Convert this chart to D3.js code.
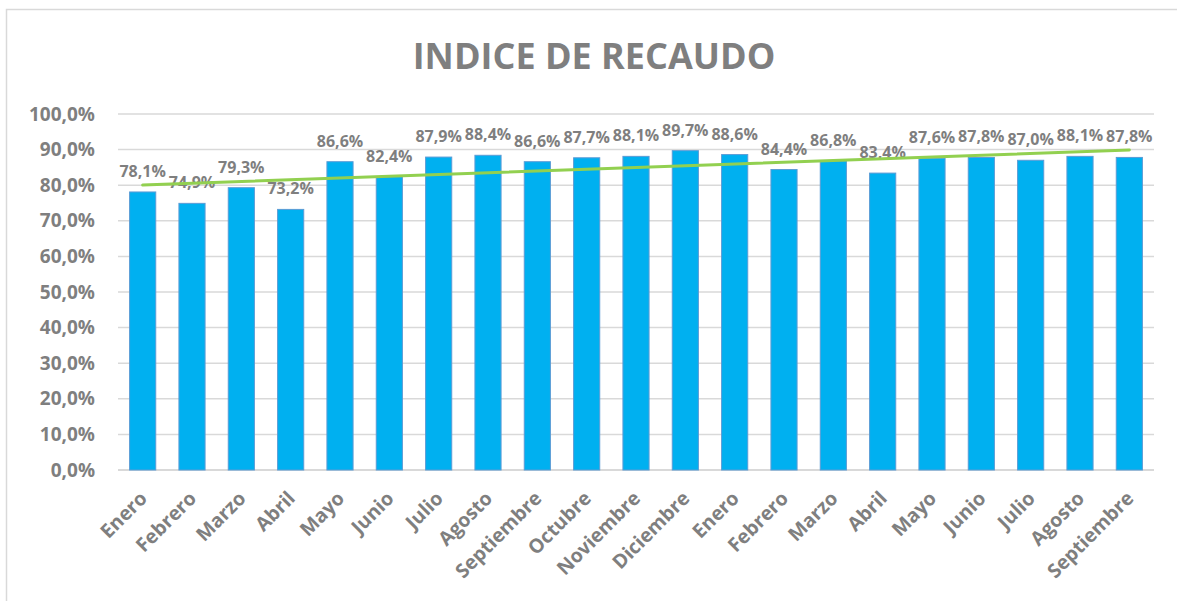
<!DOCTYPE html>
<html>
<head>
<meta charset="utf-8">
<script src="https://cdn.jsdelivr.net/npm/d3@7"></script>
<style>
  html, body { margin: 0; padding: 0; background: #fff; }
  svg { display: block; font-family: "Open Sans", "Liberation Sans", sans-serif; }
</style>
</head>
<body>
<svg id="chart" width="1177" height="601"></svg>
<script>
// Indice de recaudo, dos años (enero a septiembre del segundo)
const meses = [
  "Enero", "Febrero", "Marzo", "Abril", "Mayo", "Junio", "Julio", "Agosto",
  "Septiembre", "Octubre", "Noviembre", "Diciembre",
  "Enero", "Febrero", "Marzo", "Abril", "Mayo", "Junio", "Julio", "Agosto",
  "Septiembre"
];
const indice = [
  78.1, 74.9, 79.3, 73.2, 86.6, 82.4, 87.9, 88.4, 86.6, 87.7, 88.1, 89.7,
  88.6, 84.4, 86.8, 83.4, 87.6, 87.8, 87.0, 88.1, 87.8
];
const yTicks = [0, 10, 20, 30, 40, 50, 60, 70, 80, 90, 100];

const gris = "#7f7f7f";
const svg = d3.select("#chart");

// marco del gráfico
svg.append("rect")
  .attr("x", 6.5).attr("y", 9.5)
  .attr("width", 1200).attr("height", 620)
  .attr("fill", "none")
  .attr("stroke", "#d9d9d9")
  .attr("stroke-width", 1.5);

const plot = { left: 118, right: 1154, top: 114, bottom: 470 };
const keys = meses.map((m, i) => i);

const x = d3.scaleBand()
  .domain(keys)
  .range([plot.left, plot.right])
  .paddingInner(0.47)
  .paddingOuter(0.235);

const y = d3.scaleLinear()
  .domain([0, 100])
  .range([plot.bottom, plot.top]);

// título
svg.append("text")
  .attr("x", 594)
  .attr("y", 69)
  .attr("text-anchor", "middle")
  .attr("fill", gris)
  .attr("font-size", 36)
  .attr("font-weight", 700)
  .text("INDICE DE RECAUDO");

// líneas de cuadrícula
svg.append("g")
  .selectAll("line")
  .data(yTicks)
  .enter()
  .append("line")
    .attr("x1", plot.left).attr("x2", plot.right)
    .attr("y1", d => y(d)).attr("y2", d => y(d))
    .attr("stroke", "#d9d9d9")
    .attr("stroke-width", d => d === 0 ? 2 : 1.5);

// eje Y
const yAxis = svg.append("g")
  .attr("transform", `translate(${plot.left},0)`)
  .call(d3.axisLeft(y).tickValues(yTicks).tickSize(0).tickPadding(23)
    .tickFormat(d => d.toFixed(1).replace(".", ",") + "%"));
yAxis.select(".domain").remove();
yAxis.selectAll("text")
  .attr("fill", gris)
  .attr("font-size", 19)
  .attr("font-weight", 700)
  .attr("font-family", "Open Sans");

// barras
svg.append("g")
  .selectAll("rect")
  .data(indice)
  .enter()
  .append("rect")
    .attr("x", (d, i) => x(i))
    .attr("y", d => y(d))
    .attr("width", x.bandwidth())
    .attr("height", d => y(0) - y(d))
    .attr("fill", "#00b0f0")
    .attr("stroke", "#5b9bd5")
    .attr("stroke-width", 1);

// etiquetas de datos
svg.append("g")
  .selectAll("text")
  .data(indice)
  .enter()
  .append("text")
    .attr("x", (d, i) => x(i) + x.bandwidth() / 2)
    .attr("y", d => y(d) - 15)
    .attr("text-anchor", "middle")
    .attr("fill", gris)
    .attr("font-size", 16)
    .attr("font-weight", 700)
    .text(d => d.toFixed(1).replace(".", ",") + "%");

// línea de tendencia (mínimos cuadrados, como en Excel)
const n = indice.length;
const mx = d3.mean(keys);
const my = d3.mean(indice);
const pend = d3.sum(keys, i => (i - mx) * (indice[i] - my)) /
             d3.sum(keys, i => (i - mx) * (i - mx));
const tend = i => my + pend * (i - mx);

svg.append("line")
  .attr("x1", x(0) + x.bandwidth() / 2)
  .attr("y1", y(tend(0)))
  .attr("x2", x(n - 1) + x.bandwidth() / 2)
  .attr("y2", y(tend(n - 1)))
  .attr("stroke", "#92d050")
  .attr("stroke-width", 3)
  .attr("stroke-linecap", "round");

// eje X con etiquetas giradas
svg.append("g")
  .selectAll("text")
  .data(meses)
  .enter()
  .append("text")
    .attr("transform", (d, i) =>
      `translate(${x(i) + x.bandwidth() / 2 - 4},${plot.bottom + 20}) rotate(-45)`)
    .attr("text-anchor", "end")
    .attr("dy", "0.7em")
    .attr("fill", gris)
    .attr("font-size", 19.5)
    .attr("font-weight", 700)
    .text(d => d);
</script>
</body>
</html>
